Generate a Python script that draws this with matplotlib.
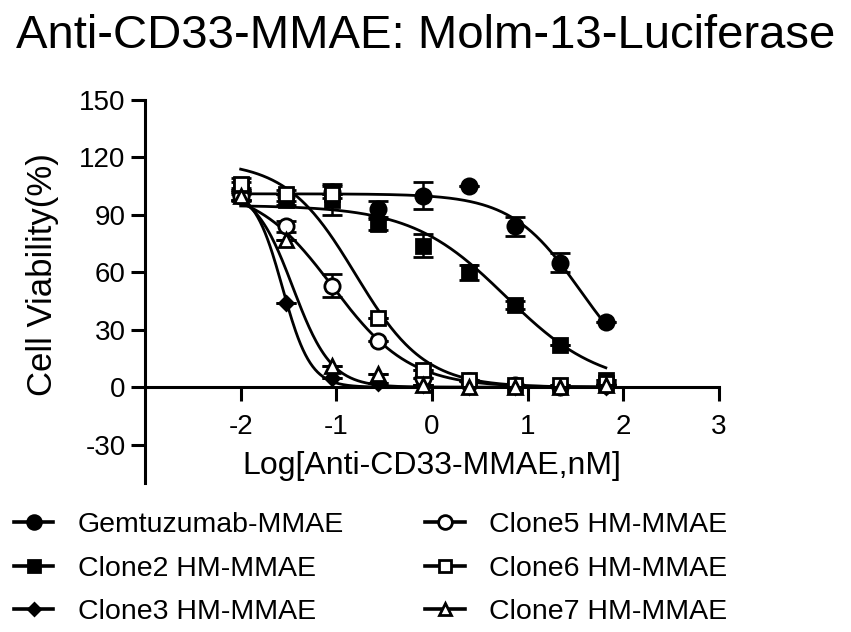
import numpy as np
import matplotlib
matplotlib.use("Agg")
import matplotlib.pyplot as plt
from matplotlib.lines import Line2D

plt.rcParams["font.family"] = ["Liberation Sans", "DejaVu Sans"]
plt.rcParams["axes.unicode_minus"] = False

# log10 dose (nM), 3-fold dilution series
log_dose = [-2.0, -1.523, -1.046, -0.569, -0.091, 0.386, 0.863, 1.340, 1.817]

names = ["Gemtuzumab-MMAE", "Clone2 HM-MMAE", "Clone3 HM-MMAE",
         "Clone5 HM-MMAE", "Clone6 HM-MMAE", "Clone7 HM-MMAE"]

gem_vals = [101, 100, 102, 93, 100, 105, 84, 65, 34]
gem_err = [3, 3, 3, 4, 7, 0, 5, 5, 0]
c2_vals = [104, 98, 98, 85, 74, 60, 43, 22, 4]
c2_err = [3, 3, 8, 3, 6, 4, 2, 0, 0]
c3_vals = [100, 44, 5, 2, 1, 0, 0, 0, 0]
c3_err = [2, 0, 0, 0, 0, 0, 0, 0, 0]
c5_vals = [100, 84, 53, 24, 5, 3, 1, 0, 1]
c5_err = [3, 3, 6, 0, 0, 0, 0, 0, 0]
c6_vals = [106, 101, 101, 36, 9, 4, 1, 1, 2]
c6_err = [3, 0, 0, 0, 0, 0, 0, 0, 0]
c7_vals = [100, 77, 11, 7, 1, 0, 0, 0, 1]
c7_err = [2, 0, 0, 0, 0, 0, 0, 0, 0]

# 4PL fit parameters: top, bottom, logIC50, hill
fit_top = [101, 95, 104, 105, 118, 104]
fit_bottom = [0, 0, 0, 0, 0, 0]
fit_logic50 = [1.55, 0.77, -1.563, -1.038, -0.80, -1.453]
fit_hill = [1.2, 0.88, 2.96, 1.08, 1.2, 2.17]

values = [gem_vals, c2_vals, c3_vals, c5_vals, c6_vals, c7_vals]
errors = [gem_err, c2_err, c3_err, c5_err, c6_err, c7_err]
markers = ["o", "s", "D", "o", "s", "^"]
msizes = [11, 10, 7, 11, 10, 10]
filled = [True, True, True, False, False, False]

fig = plt.figure(figsize=(8.51, 6.32), dpi=100)
ax = fig.add_axes([0.1704, 0.2358, 0.6745, 0.606])

xs = np.linspace(log_dose[0], log_dose[-1], 300)
handles = []
for i in range(len(names)):
    fc = "black" if filled[i] else "white"
    ax.errorbar(log_dose, values[i], yerr=errors[i], fmt=markers[i], ms=msizes[i],
                mfc=fc, mec="black", mew=2.0, ecolor="black", elinewidth=1.8,
                capsize=7, capthick=1.8, zorder=3 + i)
    fit = fit_bottom[i] + (fit_top[i] - fit_bottom[i]) / (1 + 10 ** ((xs - fit_logic50[i]) * fit_hill[i]))
    ax.plot(xs, fit, color="black", lw=2.0, zorder=2)
    handles.append(Line2D([], [], color="black", lw=2.6, marker=markers[i],
                          ms=msizes[i] * 0.9, mfc=fc, mec="black", mew=2.0,
                          label=names[i]))

ax.set_xlim(-3, 3)
ax.set_ylim(-50, 150)
ax.set_xticks([-2, -1, 0, 1, 2, 3])
ax.set_yticks([-30, 0, 30, 60, 90, 120, 150])
ax.spines["top"].set_visible(False)
ax.spines["right"].set_visible(False)
ax.spines["bottom"].set_position(("data", 0))
for s in ["left", "bottom"]:
    ax.spines[s].set_linewidth(2.2)
ax.tick_params(axis="both", direction="out", length=10, width=2.2,
               labelsize=20, colors="black")
ax.tick_params(axis="x", pad=9)
ax.tick_params(axis="y", pad=4)

ax.set_ylabel("Cell Viability(%)", fontsize=25)
ax.yaxis.set_label_coords(-0.150, 0.543)
fig.text(0.508, 0.262, "Log[Anti-CD33-MMAE,nM]", fontsize=23,
         ha="center", va="center")
fig.text(0.5, 0.943, "Anti-CD33-MMAE: Molm-13-Luciferase", fontsize=34,
         ha="center", va="center")

fig.legend(handles=handles, ncol=2, loc="upper left",
           bbox_to_anchor=(0.016, 0.19), frameon=False, fontsize=20.5,
           handlelength=1.4, handletextpad=0.85, columnspacing=2.85,
           labelspacing=0.62, borderpad=0, borderaxespad=0)

fig.savefig("out.png", dpi=100)
